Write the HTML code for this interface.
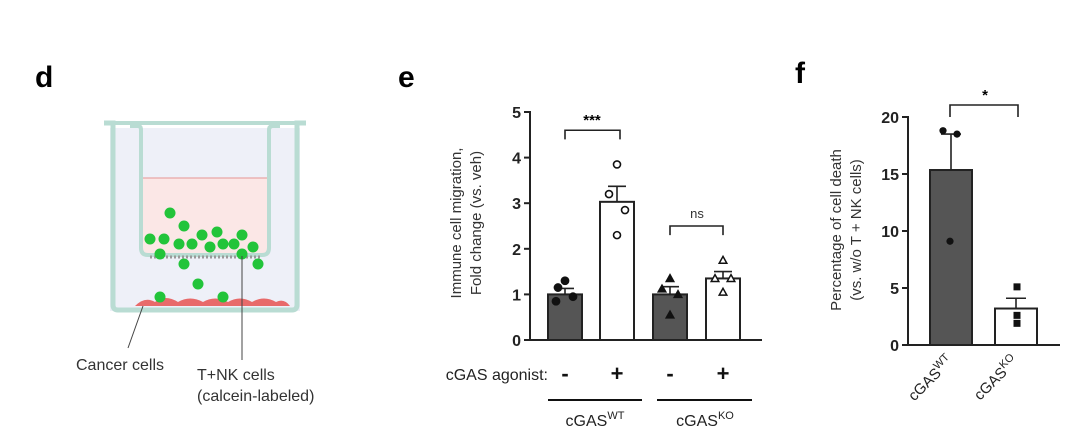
<!DOCTYPE html>
<html><head><meta charset="utf-8"><style>
body{margin:0;background:#fff;}
svg{display:block;font-family:"Liberation Sans",Arial,sans-serif;}
</style></head><body>
<svg width="1085" height="441" viewBox="0 0 1085 441">
<text x="35" y="87" font-size="30" font-weight="bold">d</text>
<text x="398" y="87" font-size="30" font-weight="bold">e</text>
<text x="795" y="83" font-size="30" font-weight="bold">f</text>

<g>
  <rect x="110" y="128" width="190" height="183" fill="#eef0f8"/>
  <path d="M140 178 H270 V252 Q270 256 266 256 H144 Q140 256 140 252 Z" fill="#fbe7e6"/>
  <line x1="140" y1="178" x2="270" y2="178" stroke="#e8a6a6" stroke-width="1.2"/>
  <path d="M104 123 H113 V305 Q113 310 118 310 H292 Q297 310 297 305 V123 H306" fill="none" stroke="#b9dcd3" stroke-width="5"/>
  <path d="M104 123 H306" stroke="#b9dcd3" stroke-width="4"/>
  <path d="M130 126 H138 Q141 126 141 130 V248 Q141 255 148 255 H262 Q269 255 269 248 V130 Q269 126 273 126 H280" fill="none" stroke="#b9dcd3" stroke-width="4"/>
  <line x1="150" y1="257" x2="260" y2="257" stroke="#999" stroke-width="3" stroke-dasharray="2 2"/>
  <path d="M135 306 Q145 296 155 302 Q165 294 178 302 Q190 295 203 302 Q215 295 228 302 Q240 295 252 302 Q264 295 276 302 Q284 298 290 306 Z" fill="#e86a6a"/>
  <g fill="#22c43a">
    <circle cx="170" cy="213" r="5.5"/><circle cx="184" cy="226" r="5.5"/><circle cx="150" cy="239" r="5.5"/><circle cx="164" cy="239" r="5.5"/>
    <circle cx="179" cy="244" r="5.5"/><circle cx="192" cy="244" r="5.5"/><circle cx="202" cy="235" r="5.5"/><circle cx="217" cy="232" r="5.5"/>
    <circle cx="210" cy="247" r="5.5"/><circle cx="223" cy="244" r="5.5"/><circle cx="234" cy="244" r="5.5"/><circle cx="242" cy="235" r="5.5"/>
    <circle cx="253" cy="247" r="5.5"/><circle cx="160" cy="254" r="5.5"/><circle cx="242" cy="254" r="5.5"/><circle cx="184" cy="264" r="5.5"/>
    <circle cx="258" cy="264" r="5.5"/><circle cx="198" cy="284" r="5.5"/><circle cx="160" cy="297" r="5.5"/><circle cx="223" cy="297" r="5.5"/>
  </g>
  <line x1="143" y1="306" x2="128" y2="348" stroke="#444" stroke-width="1"/>
  <line x1="242" y1="256" x2="242" y2="360" stroke="#444" stroke-width="1"/>
  <text x="120" y="370" font-size="16" fill="#333" text-anchor="middle">Cancer cells</text>
  <text x="197" y="380" font-size="16" fill="#333">T+NK cells</text>
  <text x="197" y="401" font-size="16" fill="#333">(calcein-labeled)</text>
</g>

<g id="chartE"></g>
<g id="chartF"></g>

<script>
const NS="http://www.w3.org/2000/svg";
// Panel e data
const eMeans=[1.0,3.03,1.0,1.35];
const eErr=[1.13,3.37,1.17,1.5];
const ePoints=[[1.3,1.15,0.85,0.95],[3.85,3.2,2.85,2.3],[1.35,1.12,1.0,0.55],[1.75,1.35,1.35,1.05]];
const eTicks=[0,1,2,3,4,5];
const eAgonist=["-","+","-","+"];
// Panel f data
const fMeans=[15.35,3.2];
const fErr=[18.5,4.1];
const fPoints=[[18.8,18.5,9.1],[5.1,2.6,1.9]];
const fTicks=[0,5,10,15,20];
const fCats=["WT","KO"];

function mk(tag,attrs,parent,text){const el=document.createElementNS(NS,tag);for(const k in attrs)el.setAttribute(k,attrs[k]);if(text!==undefined)el.textContent=text;parent.appendChild(el);return el;}

// ----- Panel e -----
(function(){
const g=document.getElementById('chartE');
const y=v=>340-v*45.6;
const cx=[565,617,670,723];const bw=34;
mk('line',{x1:530,y1:340,x2:762,y2:340,stroke:'#222','stroke-width':2},g);
mk('line',{x1:530,y1:y(5)-1,x2:530,y2:341,stroke:'#222','stroke-width':2},g);
eTicks.forEach(t=>{
  mk('line',{x1:524,y1:y(t),x2:530,y2:y(t),stroke:'#222','stroke-width':2},g);
  const tx=mk('text',{x:521,y:y(t)+6,'font-size':16,'font-weight':'bold','text-anchor':'end',fill:'#222'},g,String(t));
  
  
});
const t=mk('text',{transform:'translate(471,223) rotate(-90)','font-size':15,'text-anchor':'middle',fill:'#333'},g);


mk('tspan',{x:0,dy:-10},t,'Immune cell migration,');
mk('tspan',{x:0,dy:20},t,'Fold change (vs. veh)');
eMeans.forEach((m,i)=>{
  const b=mk('rect',{x:cx[i]-bw/2,y:y(m),width:bw,height:y(0)-y(m),fill:i%2?'#fff':'#555',stroke:'#222','stroke-width':2},g);
  
  
  const eb=mk('path',{d:`M${cx[i]} ${y(m)} V${y(eErr[i])} M${cx[i]-9} ${y(eErr[i])} H${cx[i]+9}`,stroke:'#222','stroke-width':1.6,fill:'none'},g);
  
  
  const offs=i===0?[0,-7,-9,8]:[0,-8,8,0];
  ePoints[i].forEach((v,j)=>{
    const px=cx[i]+offs[j],py=y(v);let p;
    if(i<2) p=mk('circle',{cx:px,cy:py,r:i?3.5:3.6,fill:i?'#fff':'#111',stroke:'#111','stroke-width':1.6},g);
    else p=mk('path',{d:`M${px} ${py-3.8} L${px+3.8} ${py+3} L${px-3.8} ${py+3} Z`,fill:i===3?'#fff':'#111',stroke:'#111','stroke-width':1.5},g);
    
    
  });
  const a=mk('text',{x:cx[i],y:381,'font-size':22,'font-weight':'bold','text-anchor':'middle',fill:'#111'},g,eAgonist[i]);
  
  
});
const al=mk('text',{x:548,y:380,'font-size':16,'text-anchor':'end',fill:'#222'},g,'cGAS agonist:');


const s1=mk('path',{d:`M565 ${y(4.4)} V${y(4.6)} H620 V${y(4.4)}`,stroke:'#222','stroke-width':1.6,fill:'none'},g);


const st1=mk('text',{x:592,y:y(4.6)-5,'font-size':15,'font-weight':'bold','text-anchor':'middle'},g,'***');


const s2=mk('path',{d:`M670 ${y(2.3)} V${y(2.5)} H723 V${y(2.3)}`,stroke:'#222','stroke-width':1.6,fill:'none'},g);


const st2=mk('text',{x:697,y:y(2.5)-8,'font-size':13,'text-anchor':'middle',fill:'#333'},g,'ns');


mk('line',{x1:548,y1:400,x2:642,y2:400,stroke:'#111','stroke-width':2},g);
mk('line',{x1:657,y1:400,x2:752,y2:400,stroke:'#111','stroke-width':2},g);
[['WT',595],['KO',705]].forEach(([s,x])=>{
  const tt=mk('text',{x:x,y:426,'font-size':16,'text-anchor':'middle',fill:'#222'},g);
  
  
  mk('tspan',{},tt,'cGAS');
  mk('tspan',{dy:-7,'font-size':11},tt,s);
});
})();

// ----- Panel f -----
(function(){
const g=document.getElementById('chartF');
const y=v=>345-v*11.4;
const cx=[951,1016];const bw=42;
mk('line',{x1:908,y1:345,x2:1060,y2:345,stroke:'#222','stroke-width':2},g);
mk('line',{x1:908,y1:y(20)-1,x2:908,y2:346,stroke:'#222','stroke-width':2},g);
fTicks.forEach(t=>{
  mk('line',{x1:902,y1:y(t),x2:908,y2:y(t),stroke:'#222','stroke-width':2},g);
  const tx=mk('text',{x:899,y:y(t)+6,'font-size':16,'font-weight':'bold','text-anchor':'end',fill:'#222'},g,String(t));
  
  
});
const t=mk('text',{transform:'translate(849,230) rotate(-90)','font-size':15,'text-anchor':'middle',fill:'#333'},g);


mk('tspan',{x:0,dy:-8},t,'Percentage of cell death');
mk('tspan',{x:0,dy:20},t,'(vs. w/o T + NK cells)');
fMeans.forEach((m,i)=>{
  const b=mk('rect',{x:cx[i]-bw/2,y:y(m),width:bw,height:y(0)-y(m),fill:i?'#fff':'#555',stroke:'#222','stroke-width':2},g);
  
  
  const eb=mk('path',{d:`M${cx[i]} ${y(m)} V${y(fErr[i])} M${cx[i]-10} ${y(fErr[i])} H${cx[i]+10}`,stroke:'#222','stroke-width':1.6,fill:'none'},g);
  
  
  const offs=[-8,6,-1];
  fPoints[i].forEach((v,j)=>{
    const px=cx[i]+offs[j]*(i?0:1)+(i?1:0),py=y(v);let p;
    if(i===0) p=mk('circle',{cx:px,cy:py,r:3.6,fill:'#111'},g);
    else p=mk('rect',{x:px-3.5,y:py-3.5,width:7,height:7,fill:'#111'},g);
    
    
  });
  const lt=mk('text',{transform:`translate(${cx[i]+3},362) rotate(-45)`,'font-size':15,'text-anchor':'end',fill:'#222'},g);
  
  
  mk('tspan',{},lt,'cGAS');
  mk('tspan',{dy:-6,'font-size':11},lt,fCats[i]);
});
const s=mk('path',{d:`M950 117 V105 H1018 V117`,stroke:'#222','stroke-width':1.6,fill:'none'},g);


const st=mk('text',{x:985,y:100,'font-size':15,'font-weight':'bold','text-anchor':'middle'},g,'*');


})();
</script>
</svg>
</body></html>
